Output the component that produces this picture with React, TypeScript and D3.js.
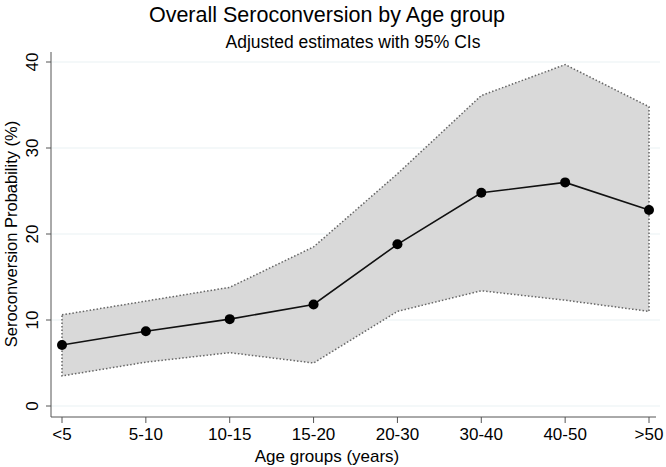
import React from 'react';
import * as d3 from 'd3';

const ageGroups = ['<5', '5-10', '10-15', '15-20', '20-30', '30-40', '40-50', '>50'];
const estimate = [7.1, 8.7, 10.1, 11.8, 18.8, 24.8, 26.0, 22.8];
const upperCI = [10.6, 12.2, 13.8, 18.5, 27.0, 36.1, 39.7, 34.8];
const lowerCI = [3.5, 5.1, 6.2, 5.0, 11.0, 13.4, 12.3, 11.0];
const yTicks = [0, 10, 20, 30, 40];

const W = 666;
const H = 467;
const font = '"Liberation Sans", Arial, Helvetica, sans-serif';

export default function App() {
  const x = d3.scalePoint<string>().domain(ageGroups).range([62, 649]);
  const y = d3.scaleLinear().domain([0, 40]).range([406, 62]);

  const rows = ageGroups.map((g, i) => ({g, est: estimate[i], lo: lowerCI[i], hi: upperCI[i]}));

  const upper = rows.map(d => [x(d.g) as number, y(d.hi)] as [number, number]);
  const lower = rows.map(d => [x(d.g) as number, y(d.lo)] as [number, number]).reverse();
  const band = d3.line()([...upper, ...lower]) + 'Z';
  const meanLine = d3.line<typeof rows[0]>()
    .x(d => x(d.g) as number)
    .y(d => y(d.est))(rows) as string;

  const axisX = 51;
  const axisY = 417;

  return (
    <svg width={W} height={H} style={{position: 'absolute', left: 0, top: 0, background: '#fff'}}>
      <rect width={W} height={H} fill="#fff" />
      <text x={327} y={22} textAnchor="middle" fontFamily={font} fontSize={21.5} fill="#000">
        Overall Seroconversion by Age group
      </text>
      <text x={353} y={48} textAnchor="middle" fontFamily={font} fontSize={17.5} fill="#000">
        Adjusted estimates with 95% CIs
      </text>

      {yTicks.map(t => (
        <line key={'g' + t} x1={axisX} x2={660} y1={y(t)} y2={y(t)} stroke="#eaf2f3" strokeWidth={1.2} />
      ))}

      <path d={band} fill="#d9d9d9" stroke="#666" strokeWidth={1.5} strokeDasharray="1.5,2" />
      <path d={meanLine} fill="none" stroke="#111" strokeWidth={1.6} />
      {rows.map(d => (
        <circle key={d.g} cx={x(d.g)} cy={y(d.est)} r={5} fill="#000" />
      ))}

      {/* y axis */}
      <line x1={axisX} x2={axisX} y1={52} y2={axisY} stroke="#555" strokeWidth={1} />
      {yTicks.map(t => (
        <g key={'y' + t}>
          <line x1={axisX - 5} x2={axisX} y1={y(t)} y2={y(t)} stroke="#555" />
          <text
            transform={`translate(${axisX - 13},${y(t)}) rotate(-90)`}
            textAnchor="middle"
            fontFamily={font}
            fontSize={17}
            fill="#000"
          >
            {t}
          </text>
        </g>
      ))}
      <text
        transform={`translate(17,234) rotate(-90)`}
        textAnchor="middle"
        fontFamily={font}
        fontSize={16.5}
        fill="#000"
      >
        Seroconversion Probability (%)
      </text>

      {/* x axis */}
      <line x1={axisX} x2={656} y1={axisY} y2={axisY} stroke="#555" strokeWidth={1} />
      {ageGroups.map(g => (
        <g key={'x' + g}>
          <line x1={x(g)} x2={x(g)} y1={axisY} y2={axisY + 6} stroke="#555" />
          <text x={x(g)} y={axisY + 23} textAnchor="middle" fontFamily={font} fontSize={17} fill="#000">
            {g}
          </text>
        </g>
      ))}
      <text x={327} y={462} textAnchor="middle" fontFamily={font} fontSize={17} fill="#000">
        Age groups (years)
      </text>
    </svg>
  );
}
